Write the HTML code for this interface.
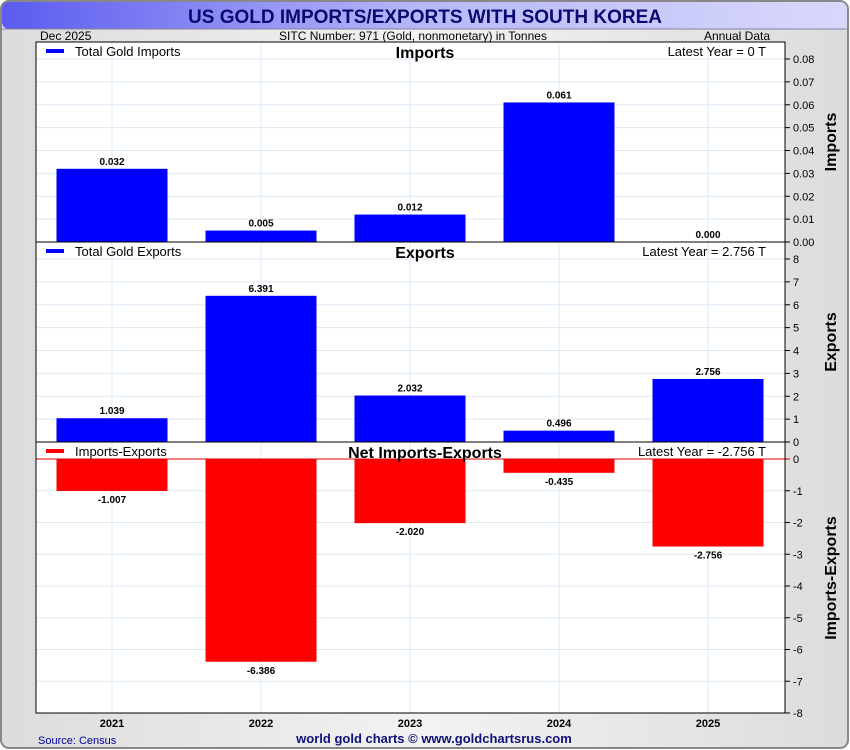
<!DOCTYPE html>
<html><head><meta charset="utf-8"><style>
body{margin:0;background:#fff;font-family:"Liberation Sans",sans-serif}
svg{display:block}
</style></head><body>
<svg id="c" width="850" height="750" xmlns="http://www.w3.org/2000/svg" font-family="Liberation Sans, sans-serif">
<defs>
<linearGradient id="tg" x1="0" x2="1"><stop offset="0" stop-color="#5b5bf0"/><stop offset="0.5" stop-color="#b8b8f8"/><stop offset="1" stop-color="#d8d8fc"/></linearGradient>
<linearGradient id="bg" x1="0" x2="1"><stop offset="0" stop-color="#dcdcdc"/><stop offset="0.5" stop-color="#f2f2f2"/><stop offset="1" stop-color="#dcdcdc"/></linearGradient>
</defs>
<rect x="1" y="1" width="847" height="747" rx="8" fill="url(#bg)" stroke="#888" stroke-width="2"/>
<rect x="2" y="2" width="845" height="27" rx="7" fill="url(#tg)"/>
<line x1="2" y1="29" x2="847" y2="29" stroke="#8080a0"/>
<text x="425" y="23" text-anchor="middle" font-size="19" font-weight="bold" fill="#0a0a70">US GOLD IMPORTS/EXPORTS WITH SOUTH KOREA</text>
<text x="40" y="40" font-size="12">Dec  2025</text>
<text x="413" y="40" text-anchor="middle" font-size="12">SITC Number: 971 (Gold, nonmonetary) in Tonnes</text>
<text x="770" y="40" text-anchor="end" font-size="12">Annual Data</text>
<rect x="36" y="42" width="749" height="671" fill="#fff"/>
<g id="g"></g>
<rect x="36" y="42" width="749" height="671" fill="none" stroke="#000"/>
<text x="38" y="744" font-size="11" fill="#0000a0">Source: Census</text>
<text x="434" y="743" text-anchor="middle" font-size="13" font-weight="bold" fill="#10107a">world gold charts © www.goldchartsrus.com</text>
</svg>
<script>
const years=["2021","2022","2023","2024","2025"];
const imports=[0.032,0.005,0.012,0.061,0.000];
const exportsV=[1.039,6.391,2.032,0.496,2.756];
const net=[-1.007,-6.386,-2.020,-0.435,-2.756];
const impTicks=[0,0.01,0.02,0.03,0.04,0.05,0.06,0.07,0.08];
const expTicks=[0,1,2,3,4,5,6,7,8];
const netTicks=[0,-1,-2,-3,-4,-5,-6,-7,-8];
const NS="http://www.w3.org/2000/svg",G=document.getElementById('g');
function el(t,a,txt){const e=document.createElementNS(NS,t);for(const k in a)e.setAttribute(k,a[k]);if(txt!=null)e.textContent=txt;G.appendChild(e);return e;}
const L=36,R=785,step=149,bw=111;
const xc=i=>L+76+i*step;
for(let i=0;i<years.length;i++){
 const v=el('line',{x1:xc(i),x2:xc(i),y1:42,y2:713,stroke:'#dde9f5'});
 
 const t=el('text',{x:xc(i),y:727,'text-anchor':'middle','font-size':11,'font-weight':'bold'},years[i]);
 
}
const panels=[
 {name:'imports',vals:imports,ticks:impTicks,y0:242,top:42,scale:(242-59)/0.08,dec:2,color:'#0000ff',legend:'Total Gold Imports',title:'Imports',latest:'Latest Year = 0 T',axis:'Imports',axisY:142},
 {name:'exports',vals:exportsV,ticks:expTicks,y0:442,top:242,scale:(442-259)/8,dec:0,color:'#0000ff',legend:'Total Gold Exports',title:'Exports',latest:'Latest Year = 2.756 T',axis:'Exports',axisY:342},
 {name:'net',vals:net,ticks:netTicks,y0:459,top:442,scale:(713-459)/8,dec:0,color:'#ff0000',legend:'Imports-Exports',title:'Net Imports-Exports',latest:'Latest Year = -2.756 T',axis:'Imports-Exports',axisY:578}
];
panels.forEach(p=>{
 const y=v=>p.y0-v*p.scale;
 p.ticks.forEach(t=>{
  if(t!==0){const g=el('line',{x1:L,x2:R,y1:y(t),y2:y(t),stroke:'#dde9f5'});}
  const tk=el('line',{x1:R,x2:R+5,y1:y(t),y2:y(t),stroke:'#000'});
  const lb=el('text',{x:R+8,y:y(t)+4,'font-size':11},t.toFixed(p.dec));
 });
 p.vals.forEach((v,i)=>{
  const yy=Math.min(y(v),p.y0),h=Math.abs(y(v)-p.y0);
  const b=el('rect',{x:xc(i)-bw/2,y:yy,width:bw,height:h,fill:p.color});
  
  const ly=v>=0?y(v)-4:y(v)+12;
  const t=el('text',{x:xc(i),y:ly,'text-anchor':'middle','font-size':10,'font-weight':'bold'},v.toFixed(3));
  
 });
 const z=el('line',{x1:L,x2:R+5,y1:p.y0,y2:p.y0,stroke:p.name==='net'?'#e00000':'#000'});
 if(p.name!=='net'){const s=el('line',{x1:L,x2:R,y1:p.y0,y2:p.y0,stroke:'#000'});}
 const sw=el('rect',{x:46,y:p.top+7,width:18,height:4,fill:p.color});
 const lt=el('text',{x:75,y:p.top+14,'font-size':13},p.legend);
 const pt=el('text',{x:425,y:p.top+16,'text-anchor':'middle','font-size':16,'font-weight':'bold'},p.title);
 const la=el('text',{x:766,y:p.top+14,'text-anchor':'end','font-size':13},p.latest);
 const ax=el('text',{x:0,y:0,'text-anchor':'middle','font-size':16,'font-weight':'bold',transform:`translate(836,${p.axisY}) rotate(-90)`},p.axis);
});
</script>
</body></html>
